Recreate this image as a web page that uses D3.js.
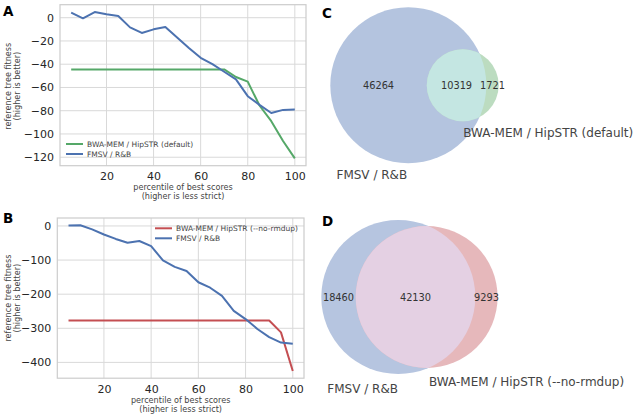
<!DOCTYPE html>
<html><head><meta charset="utf-8">
<script src="https://cdn.jsdelivr.net/npm/d3@7"></script>
<style>body{margin:0;background:#fff}svg{display:block}text{font-family:"DejaVu Sans",sans-serif}</style>
</head><body>
<svg id="chart" width="638" height="414"></svg>
<script>
// ---------- data ----------
const percentiles = [5,10,15,20,25,30,35,40,45,50,55,60,65,70,75,80,85,90,95,100];
const fmsvA = [4.3,-0.5,4.9,2.9,1.5,-8.3,-13.1,-10,-8,-17,-26,-34.5,-40,-46.5,-53,-67.5,-75,-82,-79.3,-79];
const hipstrDefault = [-44.5,-44.5,-44.5,-44.5,-44.5,-44.5,-44.5,-44.5,-44.5,-44.5,-44.5,-44.5,-44.5,-44.5,-51,-55,-75.5,-89,-106,-121];
const fmsvB = [1,2,-10,-25,-38,-49,-44,-59,-101,-120,-132,-165,-181,-205,-249,-273,-302,-326,-342,-345];
const hipstrNoRmdup = [-277,-277,-277,-277,-277,-277,-277,-277,-277,-277,-277,-277,-277,-277,-277,-277,-277,-277,-312,-425];
const xTicks = [20,40,60,80,100];
const yTicksA = [0,-20,-40,-60,-80,-100,-120];
const yTicksB = [0,-100,-200,-300,-400];
const vennC = {onlyA:46264, both:10319, onlyB:1721};
const vennD = {onlyA:18460, both:42130, onlyB:9293};
const labelFMSV = "FMSV / R&B";
const labelDefault = "BWA-MEM / HipSTR (default)";
const labelNoRmdup = "BWA-MEM / HipSTR (--no-rmdup)";

// ---------- style ----------
const BLUE = "#4c72b0", GREEN = "#55a868", RED = "#c44e52";
const svg = d3.select("#chart");
const minus = s => String(s).replace("-", "\u2212");

function pad(ext){const r=ext[1]-ext[0];return [ext[0]-0.05*r, ext[1]+0.05*r];}

function linePanel(opt){
  const g = svg.append("g");
  const x = d3.scaleLinear().domain(pad(d3.extent(percentiles))).range([opt.x0,opt.x1]);
  const all = opt.series.flatMap(s=>s.values);
  const y = d3.scaleLinear().domain(pad(d3.extent(all))).range([opt.y1,opt.y0]);
  // grid
  g.selectAll(".gx").data(xTicks).join("line")
    .attr("x1",d=>x(d)).attr("x2",d=>x(d)).attr("y1",opt.y0).attr("y2",opt.y1)
    .attr("stroke","#d9d9d9").attr("stroke-width",1);
  g.selectAll(".gy").data(opt.yTicks).join("line")
    .attr("y1",d=>y(d)).attr("y2",d=>y(d)).attr("x1",opt.x0).attr("x2",opt.x1)
    .attr("stroke","#d9d9d9").attr("stroke-width",1);
  g.append("rect").attr("x",opt.x0).attr("y",opt.y0).attr("width",opt.x1-opt.x0).attr("height",opt.y1-opt.y0)
    .attr("fill","none").attr("stroke","#cccccc").attr("stroke-width",1.2);
  // axes via d3.axis (no domain/tick lines)
  const ax = g.append("g").attr("transform",`translate(0,${opt.y1})`)
    .call(d3.axisBottom(x).tickValues(xTicks).tickSize(0).tickPadding(opt.xPad));
  const ay = g.append("g").attr("transform",`translate(${opt.x0},0)`)
    .call(d3.axisLeft(y).tickValues(opt.yTicks).tickSize(0).tickPadding(6).tickFormat(d=>minus(d)));
  [ax,ay].forEach(a=>{a.select(".domain").remove();
    a.selectAll("text").attr("font-family","DejaVu Sans").attr("font-size",11).attr("fill","#262626");});
  // lines
  const line = d3.line().x((d,i)=>x(percentiles[i])).y(d=>y(d));
  opt.series.forEach(s=>{
    g.append("path").datum(s.values).attr("d",line).attr("fill","none")
      .attr("stroke",s.color).attr("stroke-width",2).attr("stroke-linejoin","round");
  });
  // legend
  opt.series.forEach((s,i)=>{
    const ly = opt.legY + i*10;
    g.append("line").attr("x1",opt.legX).attr("x2",opt.legX+17).attr("y1",ly).attr("y2",ly)
      .attr("stroke",s.color).attr("stroke-width",2);
    g.append("text").attr("x",opt.legX+21).attr("y",ly+2.7).attr("font-size",7.5).attr("fill","#444")
      .text(s.name);
  });
  // labels
  const cx = (opt.x0+opt.x1)/2;
  g.append("text").attr("x",cx).attr("y",opt.xlabY).attr("text-anchor","middle").attr("font-size",8.1).attr("fill","#444")
    .text("percentile of best scores");
  g.append("text").attr("x",cx).attr("y",opt.xlabY+8.6).attr("text-anchor","middle").attr("font-size",8.1).attr("fill","#444")
    .text("(higher is less strict)");
  const cy = (opt.y0+opt.y1)/2 + opt.ylabShift;
  g.append("text").attr("transform",`translate(10.8,${cy}) rotate(-90)`).attr("text-anchor","middle").attr("font-size",8.1).attr("fill","#444")
    .text("reference tree fitness");
  g.append("text").attr("transform",`translate(19.5,${cy}) rotate(-90)`).attr("text-anchor","middle").attr("font-size",8.1).attr("fill","#444")
    .text("(higher is better)");
  g.append("text").attr("x",3).attr("y",opt.letterY).attr("font-size",13.5).attr("font-weight","bold")
    .attr("font-family","Liberation Sans").attr("fill","#000").text(opt.letter);
}

linePanel({x0:60,x1:306,y0:4.7,y1:165.7,yTicks:yTicksA,letter:"A",letterY:15.5,xPad:6.5,
  series:[{name:labelDefault,values:hipstrDefault,color:GREEN},{name:labelFMSV,values:fmsvA,color:BLUE}],
  legX:66,legY:144,xlabY:190,ylabShift:1});
linePanel({x0:57.3,x1:304,y0:218,y1:378.2,yTicks:yTicksB,letter:"B",letterY:223,xPad:7.5,
  series:[{name:labelNoRmdup,values:hipstrNoRmdup,color:RED},{name:labelFMSV,values:fmsvB,color:BLUE}],
  legX:155,legY:228.3,xlabY:403.3,ylabShift:0});

// ---------- Venn ----------
function lens(r1,r2,d){
  if(d>=r1+r2) return 0;
  if(d<=Math.abs(r1-r2)) return Math.PI*Math.min(r1,r2)**2;
  const a=r1*r1*Math.acos((d*d+r1*r1-r2*r2)/(2*d*r1));
  const b=r2*r2*Math.acos((d*d+r2*r2-r1*r1)/(2*d*r2));
  const c=0.5*Math.sqrt((-d+r1+r2)*(d+r1-r2)*(d-r1+r2)*(d+r1+r2));
  return a+b-c;
}
function venn(opt){
  const v=opt.data, tA=v.onlyA+v.both, tB=v.onlyB+v.both;
  const r = d3.scaleSqrt().domain([0,tA]).range([0,opt.rA]);
  const r1=r(tA), r2=r(tB);
  const target = v.both/tA*Math.PI*r1*r1;
  let lo=Math.abs(r1-r2), hi=r1+r2;
  for(let i=0;i<60;i++){const m=(lo+hi)/2; if(lens(r1,r2,m)>target) lo=m; else hi=m;}
  const d=(lo+hi)/2;
  const c1=[opt.cx,opt.cy], c2=[opt.cx+d,opt.cy];
  const g=svg.append("g");
  const id="clip"+opt.letter;
  g.append("clipPath").attr("id",id).append("circle").attr("cx",c1[0]).attr("cy",c1[1]).attr("r",r1);
  g.append("circle").attr("cx",c1[0]).attr("cy",c1[1]).attr("r",r1).attr("fill",opt.colA);
  g.append("circle").attr("cx",c2[0]).attr("cy",c2[1]).attr("r",r2).attr("fill",opt.colB);
  g.append("circle").attr("cx",c2[0]).attr("cy",c2[1]).attr("r",r2).attr("fill",opt.colAB).attr("clip-path",`url(#${id})`);
  const aL=c1[0]-r1, bL=c2[0]-r2, aR=c1[0]+r1, bR=c2[0]+r2;
  const nums=[[ (aL+bL)/2, v.onlyA],[ (bL+aR)/2, v.both],[ (aR+bR)/2, v.onlyB]];
  g.selectAll(".n").data(nums).join("text").attr("x",d=>d[0]).attr("y",opt.cy+3.5)
    .attr("text-anchor","middle").attr("font-size",9.8).attr("fill","#333").text(d=>d[1]);
  g.append("text").attr("x",opt.labA[0]).attr("y",opt.labA[1]).attr("font-size",12).attr("fill","#444").text(opt.nameA);
  g.append("text").attr("x",opt.labB[0]).attr("y",opt.labB[1]).attr("font-size",12).attr("fill","#444").text(opt.nameB);
  g.append("text").attr("x",322).attr("y",opt.letterY).attr("font-size",13.5).attr("font-weight","bold")
    .attr("font-family","Liberation Sans").attr("fill","#000").text(opt.letter);
}
venn({letter:"C",letterY:17.5,data:vennC,cx:408.3,cy:85.3,rA:78,colA:"#b4c4df",colB:"#bcdcc0",colAB:"#c4e6e2",
  nameA:labelFMSV,nameB:labelDefault,labA:[336.5,179],labB:[463.3,137],});
venn({letter:"D",letterY:225.5,data:vennD,cx:398.3,cy:297,rA:77,colA:"#b6c5e0",colB:"#e6b8bb",colAB:"#e4d0e3",
  nameA:labelFMSV,nameB:labelNoRmdup,labA:[327.3,392.5],labB:[429,385.5]});
</script>
</body></html>
